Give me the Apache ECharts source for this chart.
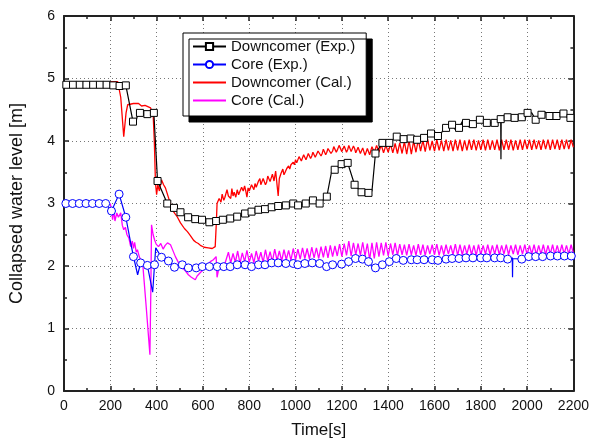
<!DOCTYPE html>
<html>
<head>
<meta charset="utf-8">
<script src="https://cdn.jsdelivr.net/npm/echarts@6/dist/echarts.min.js"></script>
<style>
html,body{margin:0;padding:0;background:#fff;}
#chart{width:592px;height:445px;}
</style>
</head>
<body>
<div id="chart"></div>
<script>
// ---- data (time [s], level [m]) ----
const xTicks = [0,200,400,600,800,1000,1200,1400,1600,1800,2000,2200];
const yTicks = [0,1,2,3,4,5,6];
const seriesNames = ['Downcomer (Exp.)','Core (Exp.)','Downcomer (Cal.)','Core (Cal.)'];

// Downcomer (Exp.) marker points
const dcExpMarks = [[10,4.9],[39,4.9],[68,4.9],[97,4.9],[126,4.9],[155,4.9],[184,4.9],[213,4.89],[240,4.88],[267,4.89],
[298,4.31],[328,4.45],[360,4.43],[388,4.45],[404,3.36],[446,3.0],[475,2.93],[503,2.86],[536,2.78],[567,2.75],[596,2.74],
[628,2.70],[657,2.72],[686,2.74],[718,2.76],[748,2.79],[782,2.84],[810,2.87],[840,2.9],[868,2.91],[897,2.94],[925,2.96],
[958,2.97],[990,3.0],[1011,2.97],[1044,3.0],[1075,3.05],[1104,3.0],[1135,3.11],[1169,3.54],[1199,3.63],[1225,3.65],
[1255,3.3],[1285,3.18],[1315,3.17],[1345,3.8],[1375,3.97],[1405,3.97],[1437,4.07],[1467,4.03],[1497,4.04],[1525,4.02],
[1555,4.05],[1585,4.12],[1615,4.08],[1650,4.21],[1676,4.26],[1706,4.21],[1736,4.29],[1766,4.27],[1796,4.34],[1826,4.29],
[1860,4.29],[1886,4.35],[1916,4.38],[1946,4.37],[1977,4.38],[2002,4.45],[2037,4.34],[2062,4.42],[2097,4.40],[2127,4.40],
[2157,4.44],[2187,4.37]];
// Downcomer (Exp.) extra line points (no marker)
const dcExpLine = [[0,4.9],[273,4.88],[310,4.3],[318,4.42],[395,4.42],[1155,3.5],[1330,3.2],[1420,4.02],[1452,4.0],
[1540,4.0],[1600,4.15],[1690,4.18],[1720,4.31],[1750,4.22],[1810,4.3],[1887,3.71],[1888,4.33],[1930,4.42],[1990,4.35],
[2020,4.45],[2050,4.38],[2075,4.47],[2110,4.35],[2140,4.46],[2172,4.38],[2200,4.42]];

// Core (Exp.) marker points
const coreExpMarks = [[8,3.0],[37,3.0],[66,3.0],[95,3.0],[123,3.0],[152,3.0],[180,3.0],[205,2.88],[238,3.15],[267,2.78],
[300,2.15],[331,2.05],[360,2.01],[391,2.02],[421,2.14],[451,2.08],[477,1.98],[511,2.02],[537,1.97],[571,1.97],[597,1.99],
[628,1.99],[662,1.99],[690,1.99],[718,1.99],[748,2.02],[782,2.02],[810,1.99],[840,2.02],[868,2.02],[897,2.05],[925,2.05],
[958,2.04],[990,2.04],[1010,2.02],[1040,2.04],[1072,2.05],[1104,2.04],[1134,1.99],[1160,2.02],[1199,2.03],[1229,2.07],
[1259,2.12],[1289,2.11],[1315,2.07],[1345,1.97],[1375,2.02],[1405,2.07],[1435,2.12],[1465,2.09],[1500,2.1],[1525,2.1],
[1555,2.1],[1590,2.1],[1615,2.09],[1650,2.11],[1676,2.12],[1706,2.12],[1736,2.13],[1766,2.13],[1800,2.13],[1826,2.13],
[1860,2.13],[1886,2.13],[1916,2.11],[1977,2.11],[2007,2.15],[2037,2.15],[2067,2.15],[2101,2.16],[2131,2.16],[2161,2.16],
[2191,2.16]];
const coreExpLine = [[0,3.0],[288,2.37],[318,1.86],[383,1.58],[396,2.29],[1340,1.93],[1936,2.13],[1937,1.82],[1938,2.12],[2200,2.16]];

// Downcomer (Cal.)
const dcCal = [[200,4.95],[232,4.95],[245,4.7],[258,4.07],[268,4.45],[275,4.58],[300,4.6],[322,4.6],[335,4.56],[350,4.57],
[374,4.53],[385,4.42],[390,4.0],[395,3.33],[400,3.14],[405,3.3],[412,3.2],[421,3.38],[430,3.3],[438,3.25],[455,3.05],
[473,2.87],[490,2.78],[503,2.69],[520,2.6],[533,2.55],[545,2.49],[560,2.41],[570,2.38],[580,2.36],[589,2.33],[605,2.3],
[623,2.29],[640,2.28],[653,2.31],[658,2.7],[661,3.0],[670,3.08],[678,3.02],[683,3.15],[690,3.05],[695,3.1],[704,3.22],
[710,3.12],[715,3.15],[720,3.08],[725,3.24],[730,3.12],[735,3.18],[742,3.1],[748,3.22],[754,3.14],[760,3.15],[767,3.26],
[774,3.2],[780,3.28],[785,3.2],[790,3.1],[795,3.25],[800,3.2],[805,3.18],[810,3.3],[815,3.28],[820,3.22],[825,3.32],
[830,3.26],[835,3.24],[840,3.36],[846,3.4],[850,3.3],[855,3.3],[860,3.4],[865,3.38],[870,3.3],[875,3.34],[880,3.44],
[885,3.45],[890,3.35],[895,3.36],[900,3.47],[903,3.46],[907,3.36],[910,3.38],[914,3.52],[916,3.5],[920,3.3],[925,3.12],
[930,3.4],[937,3.48],[945,3.55],[950,3.46],[955,3.5],[962,3.56],[970,3.6],[975,3.55],[980,3.62],[985,3.6],[990,3.66],
[995,3.62],[1000,3.7],[1005,3.65],[1010,3.68],[1015,3.75],[1020,3.74],[1025,3.68],[1030,3.71],[1035,3.78],[1040,3.76],
[1045,3.7],[1050,3.73],[1055,3.8],[1061,3.78],[1065,3.72],[1070,3.76],[1075,3.82],[1080,3.8],[1085,3.74],[1090,3.78],
[1097,3.84],[1104,3.82],[1110,3.76],[1115,3.8],[1120,3.87],[1125,3.85],[1130,3.78],[1135,3.82],[1140,3.88],[1147,3.86],
[1153,3.8],[1160,3.84],[1165,3.91],[1170,3.9],[1176,3.82],[1182,3.87],[1188,3.93],[1195,3.92],[1200,3.83],[1205,3.85],
[1210,3.92],[1215,3.9],[1220,3.82],[1225,3.86],[1230,3.93],[1235,3.9],[1240,3.83],[1245,3.85],[1250,3.92],[1255,3.88],
[1260,3.81],[1265,3.83],[1270,3.9],[1275,3.87],[1280,3.8],[1285,3.82],[1290,3.89],[1295,3.86],[1300,3.77],[1305,3.79],
[1310,3.88],[1315,3.86],[1320,3.78],[1325,3.8],[1330,3.91],[1335,3.9],[1340,3.82],[1345,3.84],[1350,3.93],[1355,3.9],
[1360,3.82],[1365,3.85],[1370,3.94],[1375,3.92],[1380,3.81],[1385,3.84],[1390,3.93],[1395,3.9],[1400,3.82],[1405,3.85],
[1410,3.95],[1415,3.92],[1420,3.81],[1425,3.84],[1430,3.96],[1435,3.93],[1440,3.8],[1445,3.83],[1450,3.97],[1455,3.94],
[1460,3.8],[1465,3.82],[1470,3.99],[1475,3.98],[1480,3.79],[1485,3.8],[1490,4.01],[1495,4.0],[1500,3.79],[1505,3.8],
[1510,4.0],[1520,3.82],[1530,4.02],[1540,3.84],[1550,4.01],[1560,3.83],[1570,4.03],[1580,3.85],[1590,4.0],[1600,3.84],
[1610,4.02],[1620,3.85],[1630,4.01],[1640,3.84],[1650,4.02],[1660,3.85],[1670,4.01],[1680,3.84],[1690,4.02],[1700,3.85],
[1710,4.02],[1720,3.84],[1730,4.01],[1740,3.85],[1750,4.02],[1760,3.86],[1770,4.02],[1780,3.85],[1790,4.01],[1800,3.86],
[1810,4.02],[1820,3.85],[1830,4.02],[1840,3.86],[1850,4.01],[1860,3.86],[1870,4.02],[1880,3.85],[1890,4.02],[1900,3.86],
[1910,4.02],[1920,3.86],[1930,4.02],[1940,3.85],[1950,4.01],[1960,3.86],[1970,4.02],[1980,3.86],[1990,4.02],[2000,3.87],
[2010,4.02],[2020,3.86],[2030,4.02],[2040,3.87],[2050,4.01],[2060,3.86],[2070,4.02],[2080,3.87],[2090,4.02],[2100,3.86],
[2110,4.02],[2120,3.87],[2130,4.02],[2140,3.86],[2150,4.02],[2160,3.87],[2170,4.02],[2180,3.87],[2190,4.02],[2200,3.9]];

// Core (Cal.)
const coreCal = [[200,3.0],[205,2.9],[210,2.74],[215,2.9],[220,2.72],[228,2.85],[235,2.78],[245,2.85],[252,2.65],[258,2.58],
[265,2.62],[272,2.5],[280,2.45],[288,2.31],[295,2.4],[300,2.28],[305,2.38],[312,2.22],[317,2.26],[325,2.15],[333,2.08],
[341,1.99],[356,1.3],[371,0.58],[375,1.6],[378,2.66],[385,2.5],[391,2.42],[398,2.35],[408,2.31],[418,2.36],[428,2.27],
[437,2.33],[447,2.37],[460,2.34],[470,2.25],[481,2.15],[495,2.05],[511,1.97],[525,1.92],[537,1.86],[550,1.82],[567,1.78],
[575,1.84],[590,1.9],[602,1.94],[615,2.0],[632,2.07],[645,2.1],[657,2.15],[661,1.82],[668,1.95],[680,2.0],[690,1.98],
[700,2.1],[710,2.22],[720,2.05],[730,2.2],[740,2.06],[750,2.24],[760,2.04],[770,2.21],[780,2.07],[790,2.25],[800,2.06],
[810,2.2],[820,2.05],[830,2.24],[840,2.08],[850,2.22],[860,2.06],[870,2.26],[880,2.08],[890,2.23],[900,2.07],[910,2.27],
[920,2.09],[930,2.24],[940,2.08],[950,2.26],[960,2.1],[970,2.25],[980,2.09],[990,2.28],[1000,2.1],[1010,2.27],[1020,2.11],
[1030,2.29],[1040,2.12],[1050,2.28],[1060,2.11],[1070,2.3],[1080,2.13],[1090,2.29],[1100,2.12],[1110,2.31],[1120,2.14],
[1130,2.32],[1140,2.13],[1150,2.33],[1160,2.15],[1170,2.32],[1180,2.16],[1190,2.35],[1200,2.15],[1210,2.36],[1220,2.17],
[1230,2.4],[1240,2.16],[1250,2.37],[1260,2.18],[1270,2.36],[1280,2.17],[1290,2.38],[1300,2.16],[1310,2.36],[1320,2.1],
[1330,2.37],[1340,2.12],[1350,2.38],[1360,2.15],[1370,2.37],[1380,2.17],[1390,2.38],[1400,2.16],[1410,2.36],[1420,2.18],
[1430,2.37],[1440,2.17],[1450,2.35],[1460,2.18],[1470,2.34],[1480,2.17],[1490,2.35],[1500,2.18],[1510,2.33],[1520,2.17],
[1530,2.35],[1540,2.18],[1550,2.34],[1560,2.17],[1570,2.33],[1580,2.19],[1590,2.34],[1600,2.18],[1610,2.35],[1620,2.17],
[1630,2.33],[1640,2.18],[1650,2.34],[1660,2.19],[1670,2.33],[1680,2.18],[1690,2.35],[1700,2.17],[1710,2.34],[1720,2.18],
[1730,2.33],[1740,2.19],[1750,2.34],[1760,2.18],[1770,2.33],[1780,2.17],[1790,2.34],[1800,2.18],[1810,2.33],[1820,2.19],
[1830,2.34],[1840,2.18],[1850,2.33],[1860,2.19],[1870,2.34],[1880,2.18],[1890,2.33],[1900,2.19],[1910,2.34],[1920,2.18],
[1930,2.33],[1940,2.19],[1950,2.34],[1960,2.18],[1970,2.33],[1980,2.19],[1990,2.34],[2000,2.18],[2010,2.33],[2020,2.19],
[2030,2.34],[2040,2.18],[2050,2.33],[2060,2.19],[2070,2.34],[2080,2.18],[2090,2.33],[2100,2.19],[2110,2.34],[2120,2.18],
[2130,2.33],[2140,2.19],[2150,2.34],[2160,2.19],[2170,2.33],[2180,2.19],[2190,2.34],[2200,2.2]];

// ---- build ----
function merge(marks, lineOnly){
  const a = marks.map(p => ({value: p}));
  const b = lineOnly.map(p => ({value: p, symbol: 'none'}));
  return a.concat(b).sort((u, v) => u.value[0] - v.value[0]);
}
const FONT = '"Liberation Sans", Arial, sans-serif';
const chart = echarts.init(document.getElementById('chart'), null, {renderer: 'canvas'});
const plain = v => String(v);
const tickStyle = {color: '#222', width: 1.5};
const axisCommonX = {
  type: 'value', min: xTicks[0], max: xTicks[xTicks.length-1], interval: 200,
  axisLine: {show: true, onZero: false, lineStyle: {color: '#222', width: 2}},
  axisTick: {show: true, inside: true, length: 5, lineStyle: tickStyle},
  minorTick: {show: true, splitNumber: 2, length: 3, lineStyle: tickStyle},
};
const axisCommonY = {
  type: 'value', min: yTicks[0], max: yTicks[yTicks.length-1], interval: 1,
  axisLine: {show: true, onZero: false, lineStyle: {color: '#222', width: 2}},
  axisTick: {show: true, inside: true, length: 5, lineStyle: tickStyle},
  minorTick: {show: true, splitNumber: 2, length: 3, lineStyle: tickStyle},
};
const option = {
  animation: false,
  backgroundColor: '#fff',
  textStyle: {fontFamily: FONT},
  grid: {left: 63, right: 17, top: 16, bottom: 54, containLabel: false},
  legend: {
    orient: 'vertical', left: 183, top: 33,
    data: [
      {name: seriesNames[0]},
      {name: seriesNames[1]},
      {name: seriesNames[2], itemStyle: {opacity: 0}},
      {name: seriesNames[3], itemStyle: {opacity: 0}}
    ],
    itemWidth: 33, itemHeight: 9, itemGap: 3,
    padding: [6, 11, 8, 9],
    textStyle: {fontFamily: FONT, fontSize: 15, color: '#111'},
    backgroundColor: '#fff', borderColor: '#000', borderWidth: 1,
    shadowColor: '#000', shadowBlur: 0, shadowOffsetX: 6, shadowOffsetY: 6
  },
  xAxis: [
    Object.assign({}, axisCommonX, {
      position: 'bottom',
      name: 'Time[s]', nameLocation: 'middle', nameGap: 31,
      nameTextStyle: {fontFamily: FONT, fontSize: 17, color: '#111'},
      axisLabel: {fontFamily: FONT, fontSize: 14, color: '#111', margin: 8, formatter: plain},
      splitLine: {show: true, lineStyle: {color: '#777', type: [1, 3], width: 1}}
    }),
    Object.assign({}, axisCommonX, {
      position: 'top', axisLabel: {show: false}, splitLine: {show: false}
    })
  ],
  yAxis: [
    Object.assign({}, axisCommonY, {
      position: 'left',
      name: 'Collapsed water level [m]', nameLocation: 'middle', nameGap: 38,
      nameTextStyle: {fontFamily: FONT, fontSize: 18, color: '#111'},
      axisLabel: {fontFamily: FONT, fontSize: 14, color: '#111', margin: 9, formatter: plain},
      splitLine: {show: true, lineStyle: {color: '#777', type: [1, 3], width: 1}}
    }),
    Object.assign({}, axisCommonY, {
      position: 'right', axisLabel: {show: false}, splitLine: {show: false}
    })
  ],
  series: [
    {
      name: seriesNames[2], type: 'line', data: dcCal, showSymbol: false, symbol: 'none',
      lineStyle: {color: '#ff0000', width: 1.3}, itemStyle: {color: '#ff0000'}, z: 2
    },
    {
      name: seriesNames[3], type: 'line', data: coreCal, showSymbol: false, symbol: 'none',
      lineStyle: {color: '#ff00ff', width: 1.3}, itemStyle: {color: '#ff00ff'}, z: 2
    },
    {
      name: seriesNames[0], type: 'line', data: merge(dcExpMarks, dcExpLine),
      symbol: 'rect', symbolSize: 7, showAllSymbol: true,
      lineStyle: {color: '#000', width: 1.2},
      itemStyle: {color: '#fff', borderColor: '#000', borderWidth: 1}, z: 3
    },
    {
      name: seriesNames[1], type: 'line', data: merge(coreExpMarks, coreExpLine),
      symbol: 'circle', symbolSize: 8, showAllSymbol: true,
      lineStyle: {color: '#0000ff', width: 1.2},
      itemStyle: {color: '#fff', borderColor: '#0000ff', borderWidth: 1}, z: 3
    }
  ]
};
chart.setOption(option);
</script>
</body>
</html>
